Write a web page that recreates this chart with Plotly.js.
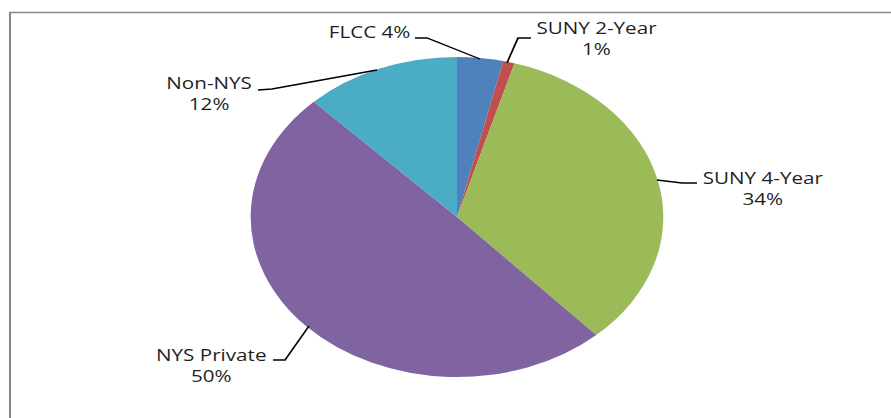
<!DOCTYPE html>
<html>
<head>
<meta charset="utf-8">
<script src="https://cdn.plot.ly/plotly-3.0.1.min.js"></script>
<style>
  html, body { margin: 0; padding: 0; background: #ffffff; overflow: hidden; }
  #chart { width: 691px; height: 418px; transform: scaleX(1.2894); transform-origin: 0 0; }
</style>
</head>
<body>
<div id="chart"></div>
<script>
// ---- data ----
const categories = ['FLCC', 'SUNY 2-Year', 'SUNY 4-Year', 'NYS Private', 'Non-NYS'];
const shares = [3.6, 0.9, 33.7, 49.6, 12.2];
const colors = ['#4F81BD', '#C0504D', '#9BBB59', '#8064A2', '#4BACC6'];

// ---- layout helpers (reference pixel -> paper) ----
const FULLW = 891, H = 418;
const px = X => X / FULLW;
const py = Y => 1 - Y / H;

const total = shares.reduce((a, b) => a + b, 0);
const pctText = shares.map(v => Math.round(v / total * 100) + '%');
const sep = [' ', '<br>', '<br>', '<br>', '<br>'];

// label centres and leader-line paths (reference pixels)
const labelPos = [[369, 32], [597, 38], [763, 188], [211, 365], [209, 94]];
const leaders = [
  [[415, 38], [427, 38], [480, 59]],
  [[531, 38], [518, 38], [507, 63]],
  [[697, 183], [682, 183], [657, 180]],
  [[273, 360], [285, 360], [309, 326]],
  [[258, 90], [272, 89], [377, 70]]
];

const annotations = categories.map((c, i) => ({
  xref: 'paper', yref: 'paper',
  x: px(labelPos[i][0]), y: py(labelPos[i][1]),
  xanchor: 'center', yanchor: 'middle',
  text: c + sep[i] + pctText[i],
  showarrow: false,
  align: 'center',
  font: { family: 'Open Sans, sans-serif', size: 16, color: '#1f1f1f' }
}));

const shapes = leaders.map(pts => ({
  type: 'path', xref: 'paper', yref: 'paper',
  path: pts.map((p, k) => (k ? 'L' : 'M') + px(p[0]) + ',' + py(p[1])).join(' '),
  line: { color: '#000000', width: 1.4 }
}));
shapes.push({
  type: 'rect', xref: 'paper', yref: 'paper',
  x0: px(10), y0: py(12.5), x1: 1.05, y1: -0.05,
  line: { color: '#888888', width: 1.6 }, fillcolor: 'rgba(0,0,0,0)'
});

const trace = {
  type: 'pie',
  labels: categories,
  values: shares,
  sort: false,
  direction: 'clockwise',
  rotation: 0,
  marker: { colors: colors, line: { width: 0 } },
  textinfo: 'none',
  hoverinfo: 'none',
  showlegend: false,
  domain: { x: [px(250), px(664)], y: [py(377), py(57)] }
};

const layout = {
  width: 691, height: 418,
  margin: { l: 0, r: 0, t: 0, b: 0 },
  paper_bgcolor: '#ffffff',
  plot_bgcolor: '#ffffff',
  showlegend: false,
  annotations: annotations,
  shapes: shapes
};

Plotly.newPlot('chart', [trace], layout, { displayModeBar: false, staticPlot: true });
</script>
</body>
</html>
